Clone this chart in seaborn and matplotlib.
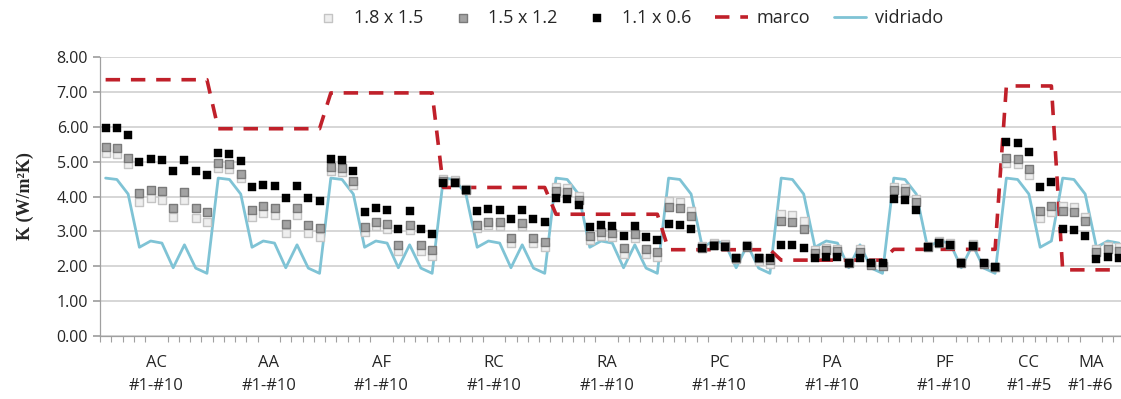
import numpy as np
import pandas as pd
import matplotlib
matplotlib.use("Agg")
import matplotlib.pyplot as plt
from matplotlib.ticker import FixedLocator
import seaborn as sns

sns.set_theme(style="white")
plt.rcParams["font.family"] = ["Open Sans", "DejaVu Sans"]

# ── data ─────────────────────────────────────────────────────────────────────
groups = ["AC", "AA", "AF", "RC", "RA", "PC", "PA", "PF", "CC", "MA"]
group_ranges = ["#1-#10"] * 8 + ["#1-#5", "#1-#6"]
group_sizes = [10, 10, 10, 10, 10, 10, 10, 10, 5, 6]

k_18x15 = [
    5.26, 5.23, 4.93, 3.85, 3.97, 3.91, 3.41, 3.89, 3.39, 3.26,   # AC
    4.82, 4.79, 4.53, 3.41, 3.53, 3.47, 2.96, 3.47, 2.96, 2.84,   # AA
    4.73, 4.70, 4.33, 2.98, 3.14, 3.07, 2.44, 3.04, 2.44, 2.30,   # AF
    4.49, 4.47, 4.22, 3.08, 3.19, 3.16, 2.66, 3.14, 2.66, 2.56,   # RC
    4.28, 4.25, 4.01, 2.75, 2.87, 2.83, 2.35, 2.80, 2.35, 2.25,   # RA
    3.86, 3.83, 3.58, 2.58, 2.65, 2.62, 2.20, 2.60, 2.15, 2.07,   # PC
    3.51, 3.48, 3.29, 2.45, 2.53, 2.50, 2.12, 2.48, 2.10, 2.05,   # PA
    4.28, 4.25, 3.93, 2.58, 2.71, 2.65, 2.12, 2.63, 2.10, 1.98,   # PF
    4.97, 4.93, 4.62, 3.38, 3.54,                                 # CC
    3.73, 3.71, 3.42, 2.50, 2.58, 2.54,                           # MA
]
k_15x12 = [
    5.43, 5.40, 5.12, 4.09, 4.19, 4.15, 3.68, 4.12, 3.67, 3.56,
    4.97, 4.93, 4.66, 3.62, 3.74, 3.68, 3.21, 3.67, 3.19, 3.08,
    4.85, 4.81, 4.44, 3.12, 3.28, 3.21, 2.61, 3.19, 2.61, 2.46,
    4.44, 4.42, 4.18, 3.19, 3.28, 3.26, 2.80, 3.23, 2.80, 2.70,
    4.17, 4.14, 3.90, 2.87, 2.98, 2.94, 2.51, 2.92, 2.50, 2.40,
    3.69, 3.66, 3.44, 2.53, 2.61, 2.58, 2.23, 2.56, 2.22, 2.16,
    3.29, 3.26, 3.07, 2.37, 2.45, 2.42, 2.08, 2.40, 2.03, 2.00,
    4.18, 4.15, 3.84, 2.54, 2.67, 2.61, 2.08, 2.59, 2.06, 1.96,
    5.12, 5.08, 4.78, 3.59, 3.73,
    3.58, 3.55, 3.30, 2.39, 2.48, 2.44,
]
k_11x06 = [
    5.98, 5.97, 5.76, 5.00, 5.09, 5.06, 4.72, 5.04, 4.72, 4.63,
    5.25, 5.23, 5.02, 4.26, 4.33, 4.31, 3.95, 4.30, 3.95, 3.87,
    5.09, 5.05, 4.72, 3.54, 3.68, 3.62, 3.07, 3.59, 3.06, 2.92,
    4.39, 4.39, 4.20, 3.57, 3.64, 3.62, 3.35, 3.60, 3.35, 3.26,
    3.95, 3.93, 3.76, 3.11, 3.18, 3.15, 2.85, 3.14, 2.83, 2.76,
    3.21, 3.19, 3.06, 2.53, 2.59, 2.56, 2.24, 2.58, 2.24, 2.22,
    2.61, 2.61, 2.53, 2.24, 2.25, 2.27, 2.10, 2.24, 2.10, 2.08,
    3.93, 3.91, 3.61, 2.54, 2.67, 2.61, 2.10, 2.59, 2.10, 1.98,
    5.56, 5.53, 5.27, 4.28, 4.41,
    3.06, 3.04, 2.87, 2.20, 2.27, 2.22,
]
marco = (
    [7.36] * 10 + [5.95] * 10 + [6.98] * 10 + [4.26] * 10 + [3.49] * 10
    + [2.47] * 10 + [2.17] * 10 + [2.48] * 10 + [7.18] * 5 + [1.89] * 6
)
vidriado = [
    4.53, 4.49, 4.07, 2.54, 2.72, 2.66, 1.95, 2.61, 1.94, 1.79,
    4.53, 4.49, 4.07, 2.54, 2.72, 2.66, 1.95, 2.61, 1.94, 1.79,
    4.53, 4.49, 4.07, 2.54, 2.72, 2.66, 1.95, 2.61, 1.94, 1.79,
    4.53, 4.49, 4.07, 2.54, 2.72, 2.66, 1.95, 2.61, 1.94, 1.79,
    4.53, 4.49, 4.07, 2.54, 2.72, 2.66, 1.95, 2.61, 1.94, 1.79,
    4.53, 4.49, 4.07, 2.54, 2.72, 2.66, 1.95, 2.61, 1.94, 1.79,
    4.53, 4.49, 4.07, 2.54, 2.72, 2.66, 1.95, 2.61, 1.94, 1.79,
    4.53, 4.49, 4.07, 2.54, 2.72, 2.66, 1.95, 2.61, 1.94, 1.79,
    4.53, 4.49, 4.07, 2.54, 2.72,
    4.53, 4.49, 4.07, 2.54, 2.72, 2.66,
]

df = pd.DataFrame({
    "idx": np.arange(len(k_11x06)),
    "k18": k_18x15, "k15": k_15x12, "k11": k_11x06,
    "marco": marco, "vidriado": vidriado,
})

# ── plot ─────────────────────────────────────────────────────────────────────
fig = plt.figure(figsize=(11.21, 3.99), dpi=100)
ax = fig.add_axes([0.0892, 0.159, 0.914, 0.697])

sns.lineplot(data=df, x="idx", y="vidriado", ax=ax, color="#7fc3d5",
             linewidth=2, label="vidriado", zorder=2)
sns.lineplot(data=df, x="idx", y="marco", ax=ax, color="#c0202a",
             linewidth=2.6, label="marco", zorder=3)
ax.lines[-1].set_dashes([4, 3])
sns.scatterplot(data=df, x="idx", y="k18", ax=ax, marker="s", s=34,
                color="#eeeeee", edgecolor="#c4c4c4", linewidth=1,
                label="1.8 x 1.5", zorder=4)
sns.scatterplot(data=df, x="idx", y="k15", ax=ax, marker="s", s=34,
                color="#a3a3a3", edgecolor="#7a7a7a", linewidth=1,
                label="1.5 x 1.2", zorder=5)
sns.scatterplot(data=df, x="idx", y="k11", ax=ax, marker="s", s=26,
                color="black", edgecolor="black", linewidth=0.3,
                label="1.1 x 0.6", zorder=6)

ax.set_ylim(0, 8)
ax.set_xlim(-0.5, 90.5)
ax.set_yticks(np.arange(0, 8.01, 1))
ax.set_yticklabels([f"{v:.2f}" for v in np.arange(0, 8.01, 1)], fontsize=11.5)
ax.yaxis.grid(True, color="#cfcfcf", linewidth=1.2)
ax.set_axisbelow(True)

bounds = np.cumsum([0] + group_sizes) - 0.5
centers = [(bounds[i] + bounds[i + 1]) / 2 for i in range(len(groups))]
ax.set_xticks(centers)
ax.set_xticklabels([f"{g}\n{r}" for g, r in zip(groups, group_ranges)],
                   fontsize=12, linespacing=1.6)
ax.xaxis.set_minor_locator(FixedLocator(np.arange(-0.5, 91, 1)))
ax.tick_params(axis="x", which="major", length=0, pad=14)
ax.tick_params(axis="x", which="minor", length=4, color="#a0a0a0", width=0.8,
               bottom=True)
ax.tick_params(axis="y", length=5, color="#a0a0a0", left=True)

for side in ["top", "right"]:
    ax.spines[side].set_visible(False)
for side in ["left", "bottom"]:
    ax.spines[side].set_color("#a0a0a0")
    ax.spines[side].set_linewidth(0.9)

ax.set_xlabel("")
ax.set_ylabel("K (W/m²K)", fontsize=13, fontweight="bold",
              family=["Liberation Serif", "DejaVu Serif"], labelpad=16)

handles, labels = ax.get_legend_handles_labels()
order = [labels.index(l) for l in ["1.8 x 1.5", "1.5 x 1.2", "1.1 x 0.6", "marco", "vidriado"]]
ax.legend([handles[i] for i in order], [labels[i] for i in order],
          loc="center", bbox_to_anchor=(0.56, 0.955), bbox_transform=fig.transFigure,
          ncol=5, frameon=False, fontsize=13, markerscale=1.0,
          handlelength=1.8, handletextpad=0.5, columnspacing=1.3)

fig.savefig("out.png", dpi=100)
